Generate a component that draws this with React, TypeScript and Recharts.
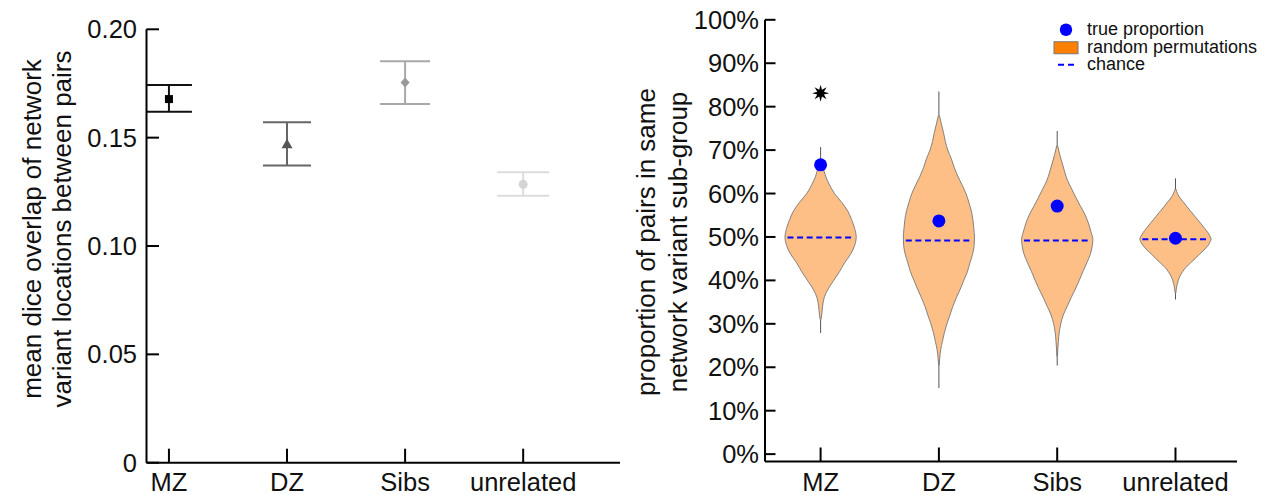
import React from 'react'
import {
  Area,
  ComposedChart,
  ErrorBar,
  Legend,
  Line,
  ReferenceDot,
  Scatter,
  XAxis,
  YAxis,
} from 'recharts'

const categories = ['MZ', 'DZ', 'Sibs', 'unrelated']
const categoryX = [1, 2, 3, 4]

// left panel: mean dice overlap between pairs
const diceTicks = [0, 0.05, 0.1, 0.15, 0.2]
const diceMean = [0.1678, 0.1469, 0.1754, 0.1285]
const diceLow = [0.162, 0.1371, 0.1655, 0.1232]
const diceHigh = [0.1743, 0.1571, 0.1852, 0.134]

// right panel: proportion of pairs in same sub-group (%)
const pctTicks = [0, 10, 20, 30, 40, 50, 60, 70, 80, 90, 100]
const trueProportion = [66.6, 53.7, 57.1, 49.7]
const chanceLevel = [49.9, 49.2, 49.2, 49.5]
const permMin = [27.9, 15.2, 20.4, 35.6]
const permMax = [70.7, 83.5, 74.4, 63.5]
const significantAt = [83.1]

// permutation distributions: [percent, relative density]
const violinMZ = [
  [31, 0.014], [32, 0.03], [34, 0.056], [36, 0.1], [38, 0.21], [40, 0.37],
  [42, 0.53], [44, 0.67], [46, 0.84], [48, 0.955], [50, 1.0], [52, 0.955],
  [54, 0.87], [56, 0.76], [58, 0.59], [60, 0.39], [62, 0.25], [64, 0.14],
  [66, 0.07], [67.5, 0.014],
]
const violinDZ = [
  [20.5, 0.008], [22, 0.022], [24, 0.05], [26, 0.1], [28, 0.155], [30, 0.225],
  [32, 0.31], [34, 0.39], [36, 0.49], [38, 0.6], [40, 0.7], [42, 0.8],
  [44, 0.87], [46, 0.945], [48, 0.99], [50, 1.0], [52, 0.98], [54, 0.955],
  [56, 0.91], [58, 0.84], [60, 0.76], [62, 0.65], [64, 0.53], [66, 0.43],
  [68, 0.35], [70, 0.25], [72, 0.18], [74, 0.13], [76, 0.07], [78, 0.014],
]
const violinSibs = [
  [22.5, 0.008], [24, 0.017], [26, 0.034], [28, 0.056], [30, 0.1], [32, 0.17],
  [34, 0.28], [36, 0.39], [38, 0.51], [40, 0.62], [42, 0.72], [44, 0.83],
  [46, 0.93], [48, 0.985], [49.5, 1.0], [51, 0.955], [53, 0.885], [55, 0.79],
  [57, 0.66], [59, 0.53], [61, 0.41], [63, 0.29], [65, 0.21], [67, 0.14],
  [69, 0.07], [71, 0.014],
]
const violinUnrelated = [
  [37, 0.008], [38, 0.022], [39, 0.045], [40, 0.079], [41, 0.126], [42, 0.2],
  [43, 0.295], [44, 0.42], [45, 0.55], [46, 0.67], [47, 0.8], [48, 0.91],
  [49, 0.98], [49.5, 1.0], [50, 0.98], [51, 0.91], [52, 0.815], [53, 0.72],
  [54, 0.62], [55, 0.52], [56, 0.42], [57, 0.32], [58, 0.225], [59, 0.126],
  [60, 0.056], [61, 0.014],
]
const violins = [violinMZ, violinDZ, violinSibs, violinUnrelated]

const legendLabels = ['true proportion', 'random permutations', 'chance']

const VIOLIN_HALF = 0.301
const CHANCE_HALF = 0.28
const BLUE = '#0000ff'
const FONT = '"Liberation Sans", Arial, sans-serif'

const diceStyle = [
  { bar: '#111', mark: '#000', kind: 'square', cap: 23 },
  { bar: '#666', mark: '#555', kind: 'triangle', cap: 24 },
  { bar: '#a8a8a8', mark: '#999', kind: 'diamond', cap: 25 },
  { bar: '#dddddd', mark: '#d4d4d4', kind: 'circle', cap: 26 },
]

const axisStroke = { stroke: '#000', strokeWidth: 2 }
const tickStyle = { fill: '#111', fontSize: 25.5, fontFamily: FONT }

const diceData = categoryX.map((x, i) => ({
  x,
  y: diceMean[i],
  err: [diceMean[i] - diceLow[i], diceHigh[i] - diceMean[i]],
}))

const violinData = violins.map((profile, i) =>
  profile.map(([pct, d]) => ({
    pct,
    span: [categoryX[i] - d * VIOLIN_HALF, categoryX[i] + d * VIOLIN_HALF],
  })),
)
const whiskerData = categoryX.map((x, i) => [
  { pct: permMin[i], v: x },
  { pct: permMax[i], v: x },
])
const chanceData = categoryX.map((x, i) => [
  { pct: chanceLevel[i], v: x - CHANCE_HALF },
  { pct: chanceLevel[i], v: x + CHANCE_HALF },
])
const truePoints = categoryX.map((x, i) => ({ x, pct: trueProportion[i] }))

function Marker({ cx, cy, kind, color }: any) {
  if (cx == null || cy == null) return null
  if (kind === 'square') return <rect x={cx - 4} y={cy - 4} width={8} height={8} fill={color} />
  if (kind === 'triangle')
    return <polygon points={`${cx},${cy - 5.5} ${cx - 5.5},${cy + 4} ${cx + 5.5},${cy + 4}`} fill={color} />
  if (kind === 'diamond')
    return <polygon points={`${cx},${cy - 5} ${cx + 4.5},${cy} ${cx},${cy + 5} ${cx - 4.5},${cy}`} fill={color} />
  return <circle cx={cx} cy={cy} r={4.5} fill={color} />
}

function Asterisk({ cx, cy }: any) {
  const pts: string[] = []
  for (let k = 0; k < 16; k++) {
    const a = (k * Math.PI) / 8 - Math.PI / 2
    const r = k % 2 === 0 ? 8.5 : 3.6
    pts.push(`${cx + r * Math.cos(a)},${cy + r * Math.sin(a)}`)
  }
  return <polygon points={pts.join(' ')} fill="#000" />
}

function AxisTitle({ viewBox, lines, xs, cy }: any) {
  const x0 = viewBox?.x ?? 0
  return (
    <g>
      {lines.map((line: string, i: number) => (
        <text
          key={line}
          x={x0 + xs[i]}
          y={cy}
          transform={`rotate(-90, ${x0 + xs[i]}, ${cy})`}
          textAnchor="middle"
          dominantBaseline="central"
          fontSize={26}
          fontFamily={FONT}
          fill="#111"
        >
          {line}
        </text>
      ))}
    </g>
  )
}

function LegendBox() {
  const icons = [
    <circle cx={16} cy={8.75} r={6.2} fill={BLUE} />,
    <rect x={4} y={2.75} width={24} height={12} fill="#ff8000" stroke="#777" strokeWidth={1} />,
    <line x1={8} x2={26} y1={8.75} y2={8.75} stroke={BLUE} strokeWidth={2} strokeDasharray="6 4" />,
  ]
  return (
    <div style={{ fontSize: 18, fontFamily: FONT, color: '#111' }}>
      {legendLabels.map((label, i) => (
        <div key={label} style={{ display: 'flex', alignItems: 'center', height: 17.5, whiteSpace: 'nowrap' }}>
          <svg width={37} height={17.5} style={{ display: 'block' }}>
            {icons[i]}
          </svg>
          <span style={{ lineHeight: '17.5px' }}>{label}</span>
        </div>
      ))}
    </div>
  )
}

function DiceChart() {
  return (
    <ComposedChart width={620} height={495} margin={{ top: 29.3, right: 0, bottom: 2.3, left: 86.5 }}>
      <XAxis
        type="number"
        dataKey="x"
        domain={[0.81, 4.82]}
        ticks={categoryX}
        interval={0}
        allowDataOverflow
        tickFormatter={(v) => categories[Math.round(v) - 1]}
        height={30}
        axisLine={axisStroke}
        tickLine={axisStroke}
        tickSize={-14}
        tickMargin={24}
        tick={tickStyle}
      />
      <YAxis
        type="number"
        dataKey="y"
        domain={[0, 0.2]}
        ticks={diceTicks}
        interval={0}
        allowDataOverflow
        tickFormatter={(v) => (v === 0 ? '0' : Number(v).toFixed(2))}
        width={60}
        axisLine={axisStroke}
        tickLine={axisStroke}
        tickSize={-12.5}
        tickMargin={22}
        tick={tickStyle}
        label={
          <AxisTitle
            lines={['mean dice overlap of network', 'variant locations between pairs']}
            xs={[-55, -24.5]}
            cy={229}
          />
        }
      />
      {diceData.map((d, i) => (
        <Scatter
          key={categories[i]}
          data={[d]}
          isAnimationActive={false}
          shape={(p: any) => <Marker cx={p.cx} cy={p.cy} kind={diceStyle[i].kind} color={diceStyle[i].mark} />}
        >
          <ErrorBar dataKey="err" direction="y" width={diceStyle[i].cap} stroke={diceStyle[i].bar} strokeWidth={2} />
        </Scatter>
      ))}
    </ComposedChart>
  )
}

function ViolinChart() {
  return (
    <ComposedChart
      layout="vertical"
      width={645}
      height={495}
      margin={{ top: 19.8, right: 28, bottom: 3.5, left: 85 }}
    >
      <XAxis
        type="number"
        dataKey="x"
        domain={[0.53, 4.52]}
        ticks={categoryX}
        interval={0}
        allowDataOverflow
        tickFormatter={(v) => categories[Math.round(v) - 1]}
        height={30}
        axisLine={axisStroke}
        tickLine={axisStroke}
        tickSize={-14}
        tickMargin={25}
        tick={tickStyle}
      />
      <YAxis
        type="number"
        dataKey="pct"
        reversed
        domain={[-1.7, 100]}
        ticks={pctTicks}
        interval={0}
        allowDataOverflow
        tickFormatter={(v) => `${v}%`}
        width={60}
        axisLine={axisStroke}
        tickLine={axisStroke}
        tickSize={-10.5}
        tickMargin={16.5}
        tick={tickStyle}
        label={
          <AxisTitle
            lines={['proportion of pairs in same', 'network variant sub-group']}
            xs={[-59, -27]}
            cy={242}
          />
        }
      />
      {whiskerData.map((d, i) => (
        <Line
          key={`w-${categories[i]}`}
          data={d}
          dataKey="v"
          stroke="#555"
          strokeWidth={1}
          dot={false}
          activeDot={false}
          zIndex={50}
          isAnimationActive={false}
        />
      ))}
      {violinData.map((d, i) => (
        <Area
          key={`v-${categories[i]}`}
          data={d}
          dataKey="span"
          type="monotone"
          fill="#fdbf85"
          fillOpacity={1}
          stroke="#777"
          strokeWidth={0.9}
          dot={false}
          activeDot={false}
          isAnimationActive={false}
        />
      ))}
      {chanceData.map((d, i) => (
        <Line
          key={`c-${categories[i]}`}
          data={d}
          dataKey="v"
          stroke={BLUE}
          strokeWidth={2}
          strokeDasharray="6 3.6"
          dot={false}
          activeDot={false}
          zIndex={450}
          isAnimationActive={false}
        />
      ))}
      <Scatter
        data={truePoints}
        isAnimationActive={false}
        shape={(p: any) => <circle cx={p.cx} cy={p.cy} r={6.5} fill={BLUE} />}
      />
      {significantAt.map((y, i) => (
        <ReferenceDot key={`s-${i}`} x={categoryX[i]} y={y} r={8} shape={(p: any) => <Asterisk cx={p.cx} cy={p.cy} />} />
      ))}
      <Legend
        layout="vertical"
        align="center"
        verticalAlign="middle"
        wrapperStyle={{ left: 430, top: 21.25, width: 'auto' }}
        content={() => <LegendBox />}
      />
    </ComposedChart>
  )
}

export default function App() {
  return (
    <div
      style={{
        position: 'absolute',
        left: 0,
        top: 0,
        width: 1265,
        height: 495,
        background: '#fff',
        fontFamily: FONT,
      }}
    >
      <div style={{ position: 'absolute', left: 0, top: 0 }}>
        <DiceChart />
      </div>
      <div style={{ position: 'absolute', left: 620, top: 0 }}>
        <ViolinChart />
      </div>
    </div>
  )
}
